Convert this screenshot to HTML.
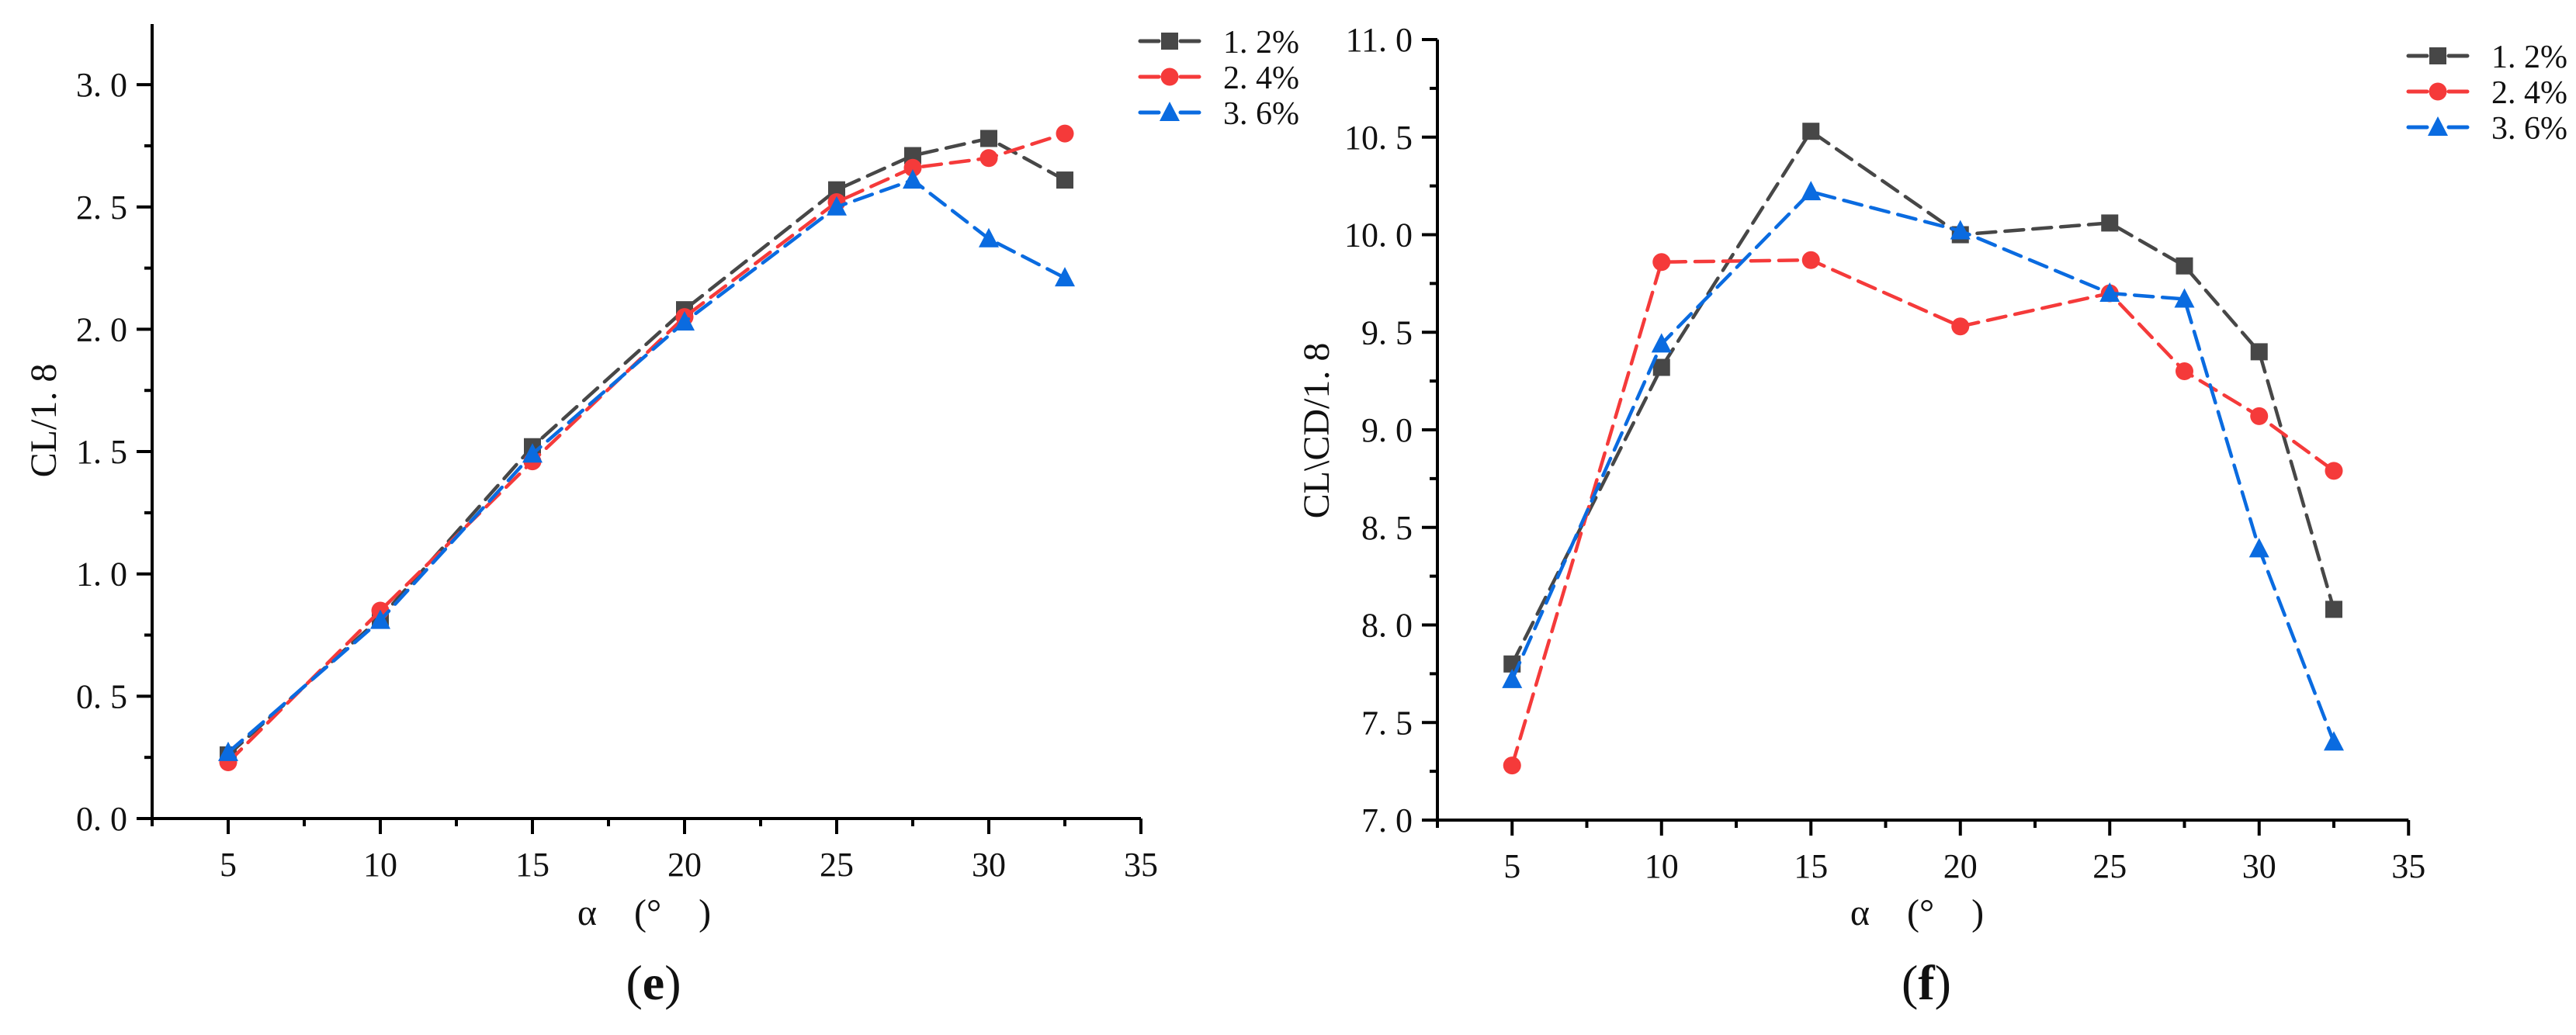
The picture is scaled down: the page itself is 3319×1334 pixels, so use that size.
<!DOCTYPE html>
<html><head><meta charset="utf-8"><style>
body{margin:0;background:#fff}
svg text{font-family:"Liberation Serif","Noto Serif CJK SC",serif;fill:#111}
</style></head><body>
<svg id="s" width="3319" height="1329" viewBox="0 0 3319 1329" xmlns="http://www.w3.org/2000/svg"></svg>
<script>
const categories=[5,10,15,20,25,27.5,30,32.5];
const seriesNames=["1. 2%","2. 4%","3. 6%"];
const clA=[0.26,0.82,1.52,2.08,2.57,2.71,2.78,2.61];
const clB=[0.23,0.85,1.46,2.05,2.52,2.66,2.70,2.80];
const clC=[0.27,0.81,1.49,2.03,2.50,2.61,2.37,2.21];
const ldA=[7.80,9.32,10.53,10.00,10.06,9.84,9.40,8.08];
const ldB=[7.28,9.86,9.87,9.53,9.70,9.30,9.07,8.79];
const ldC=[7.72,9.44,10.22,10.02,9.70,9.67,8.39,7.40];
const xTicks=[5,10,15,20,25,30,35];
const yTicksE=["0.0","0.5","1.0","1.5","2.0","2.5","3.0"];
const yTicksF=["7.0","7.5","8.0","8.5","9.0","9.5","10.0","10.5","11.0"];
const colors=["#474747","#f53a3a","#0a6be0"];
const markers=["square","circle","triangle"];
const S=document.getElementById('s');
const NS="http://www.w3.org/2000/svg";
function el(t,a,p){const e=document.createElementNS(NS,t);for(const k in a)e.setAttribute(k,a[k]);(p||S).appendChild(e);return e;}
function marker(g,type,x,y,c){
 let m;
 if(type==="square")m=el('rect',{x:x-11,y:y-11,width:22,height:22,fill:c},g);
 else if(type==="circle")m=el('circle',{cx:x,cy:y,r:11.5,fill:c},g);
 else m=el('polygon',{points:`${x},${y-14} ${x-13},${y+11} ${x+13},${y+11}`,fill:c},g);
 return m;
}
function chart(o){
 const g=el('g',{});
 
 
 const X=v=>o.x0+(v-2.5)*o.px;
 const Y=v=>o.yb-(v-o.ymin)*o.py;
 const ax=el('path',{d:`M${X(2.5)} ${o.ytop} V${o.yb} H${X(35)}`,fill:'none',stroke:'#000','stroke-width':4},g);
 
 for(let v=2.5;v<=35.01;v+=2.5){
  const major=Math.abs(v%5)<0.01;
  el('line',{x1:X(v),x2:X(v),y1:o.yb,y2:o.yb+(major?20:10),stroke:'#000','stroke-width':4},g);
 }
 xTicks.forEach(v=>{
  const t=el('text',{x:X(v),y:o.yb+74,'font-size':44,'text-anchor':'middle'},g);t.textContent=v;
  
 });
 const ymax=o.ymin+(o.yb-o.ytop)/o.py;
 for(let v=o.ymin;v<=ymax+0.001;v+=0.25){
  const major=Math.abs((v*2)%1)<0.01;
  el('line',{x1:X(2.5),x2:X(2.5)-(major?20:10),y1:Y(v),y2:Y(v),stroke:'#000','stroke-width':4},g);
 }
 o.yTicks.forEach(s=>{
  const t=el('text',{x:X(2.5)-32,y:Y(parseFloat(s))+15,'font-size':44,'text-anchor':'end'},g);t.textContent=s.replace('.','. ');
  
 });
 const yt=el('text',{x:0,y:0,'font-size':48,'text-anchor':'middle',transform:`translate(${o.ytx},${o.yty}) rotate(-90)`},g);yt.textContent=o.ytitle;
 
 const xt=el('text',{x:o.xtx,y:1192,'font-size':48,'text-anchor':'middle'},g);xt.textContent='α　(°　)';
 
 const pl=el('text',{x:o.xtx+12,y:1288,'font-size':64,'text-anchor':'middle'},g);
 pl.innerHTML=`(<tspan font-weight="bold">${o.letter}</tspan>)`;
 
 o.data.forEach((arr,i)=>{
  const sg=el('g',{},g);
  
  
  const pts=arr.map((v,j)=>X(categories[j])+','+Y(v)).join(' ');
  el('polyline',{points:pts,fill:'none',stroke:colors[i],'stroke-width':4.5,'stroke-dasharray':'24 12','stroke-linecap':'round'},sg);
  arr.forEach((v,j)=>{
   const m=marker(sg,markers[i],X(categories[j]),Y(v),colors[i]);
   
   
  });
 });
 const lg=el('g',{},g);
 
 seriesNames.forEach((n,i)=>{
  const y=o.ly+i*46;
  const e=el('g',{},lg);
  
  el('line',{x1:o.lx,x2:o.lx+76,y1:y,y2:y,stroke:colors[i],'stroke-width':5,'stroke-dasharray':'24 28','stroke-linecap':'round'},e);
  marker(e,markers[i],o.lx+38,y,colors[i]);
  const t=el('text',{x:o.lx+107,y:y+15,'font-size':42},e);t.textContent=n;
 });
}
chart({name:'chart-e',x0:196,px:39.2,yb:1055,ytop:31,ymin:0,py:315.3,yTicks:yTicksE,data:[clA,clB,clC],ytitle:'CL/1. 8',ytx:72,yty:542,xtx:830,letter:'e',lx:1469,ly:53});
chart({name:'chart-f',x0:1852,px:38.5,yb:1057,ytop:51,ymin:7,py:251.5,yTicks:yTicksF,data:[ldA,ldB,ldC],ytitle:'CL\\CD/1. 8',ytx:1712,yty:555,xtx:2470,letter:'f',lx:3103,ly:72});
</script>
</body></html>
